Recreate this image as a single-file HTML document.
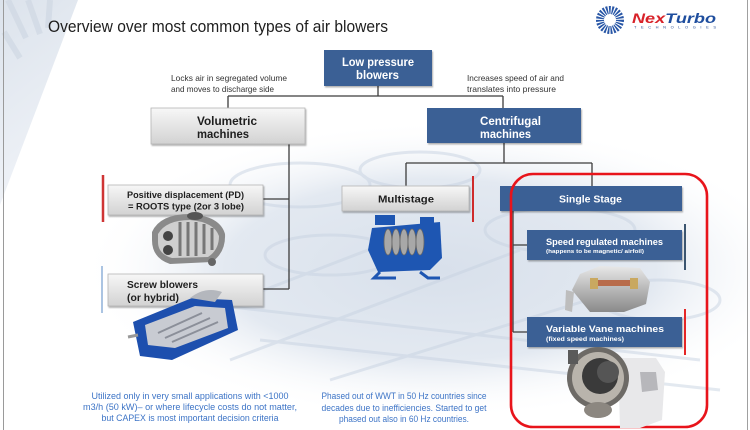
<!DOCTYPE html>
<html><head><meta charset="utf-8"><style>
html,body{margin:0;padding:0;background:#fff;}
svg{display:block;}
text{font-family:"Liberation Sans",Arial,sans-serif;}
</style></head><body>
<svg width="750" height="430" viewBox="0 0 750 430" xmlns="http://www.w3.org/2000/svg">
<defs>
  <linearGradient id="gray" x1="0" y1="0" x2="0" y2="1">
    <stop offset="0" stop-color="#f7f7f7"/><stop offset="1" stop-color="#d2d2d2"/>
  </linearGradient>
  <radialGradient id="bg" cx="0.5" cy="0.5" r="0.5">
    <stop offset="0" stop-color="#d8e0eb"/><stop offset="0.6" stop-color="#e3e9f1"/><stop offset="1" stop-color="#ffffff" stop-opacity="0"/>
  </radialGradient>
  <linearGradient id="wedge" x1="0" y1="0" x2="0.3" y2="1">
    <stop offset="0" stop-color="#dce3ec"/><stop offset="1" stop-color="#f0f3f8"/>
  </linearGradient>
  <linearGradient id="cyl" x1="0" y1="0" x2="0" y2="1">
    <stop offset="0" stop-color="#e8e8e8"/><stop offset="0.5" stop-color="#b8b8b8"/><stop offset="1" stop-color="#8a8a8a"/>
  </linearGradient>
  <filter id="sh" x="-5%" y="-5%" width="110%" height="130%"><feDropShadow dx="1" dy="1.5" stdDeviation="0.8" flood-color="#000" flood-opacity="0.3"/></filter>
</defs>

<!-- background -->
<rect width="750" height="430" fill="#fff"/>
<polygon points="0,0 78,0 0,205" fill="url(#wedge)"/>
<g stroke="#cdd6e2" stroke-width="6" fill="none" opacity="0.6">
  <path d="M8,0 L26,38"/><path d="M28,0 L40,34"/><path d="M50,0 L48,28"/><path d="M4,32 L20,58"/>
</g>
<ellipse cx="440" cy="270" rx="360" ry="150" fill="url(#bg)"/>
<g fill="none" stroke="#c8d3e2" stroke-width="3" opacity="0.5">
  <ellipse cx="300" cy="185" rx="70" ry="22"/>
  <ellipse cx="420" cy="170" rx="60" ry="18"/>
  <ellipse cx="560" cy="230" rx="75" ry="22"/>
  <ellipse cx="660" cy="300" rx="60" ry="20"/>
  <ellipse cx="330" cy="255" rx="65" ry="20"/>
  <path d="M160,330 L420,230"/><path d="M230,360 L520,250"/><path d="M330,380 L620,290"/>
  <path d="M170,300 L700,360"/><path d="M260,340 L720,390"/>
</g>

<!-- side borders -->
<line x1="3.5" y1="0" x2="3.5" y2="430" stroke="#9a9a9a" stroke-width="1"/>
<line x1="747.5" y1="0" x2="747.5" y2="430" stroke="#a0a0a0" stroke-width="1"/>

<!-- title -->
<text x="48" y="32" font-size="17" fill="#1e1e1e" textLength="340" lengthAdjust="spacingAndGlyphs">Overview over most common types of air blowers</text>

<!-- logo -->
<circle cx="610" cy="20" r="10" fill="none" stroke="#2856a6" stroke-width="8" stroke-dasharray="1.6 1.1"/>
<circle cx="610" cy="20" r="4.5" fill="#fff"/>
<text x="632" y="23" font-size="14" font-weight="bold" font-style="italic" textLength="84" lengthAdjust="spacingAndGlyphs"><tspan fill="#d8232a">Nex</tspan><tspan fill="#1f4e9e">Turbo</tspan></text>
<text x="634" y="28.5" font-size="4" fill="#2a4f95" textLength="82" lengthAdjust="spacing">TECHNOLOGIES</text>

<!-- connectors -->
<g stroke="#3c3c3c" stroke-width="1.3" fill="none">
  <path d="M378,86 V96 M228,96 H503 M228,96 V108 M503,96 V108"/>
  <path d="M289,144 V289 M263,199 H289 M263,289 H289"/>
  <path d="M504,143 V163 M406,163 H592 M406,163 V186 M592,163 V186"/>
  <path d="M513,211 V332 M513,245 H527 M513,332 H527"/>
</g>

<!-- small labels -->
<g font-size="8.5" fill="#333">
  <text x="171" y="81" textLength="116" lengthAdjust="spacingAndGlyphs">Locks air in segregated volume</text>
  <text x="171" y="92" textLength="103" lengthAdjust="spacingAndGlyphs">and moves to discharge side</text>
  <text x="467" y="81" textLength="97" lengthAdjust="spacingAndGlyphs">Increases speed of air and</text>
  <text x="467" y="92" textLength="89" lengthAdjust="spacingAndGlyphs">translates into pressure</text>
</g>

<!-- boxes -->
<g filter="url(#sh)">
  <rect x="324" y="50" width="108" height="36" fill="#3b6095"/>
  <rect x="151" y="108" width="154" height="36" fill="url(#gray)" stroke="#b5b5b5" stroke-width="0.8"/>
  <rect x="427" y="108" width="154" height="35" fill="#3b6095"/>
  <rect x="108" y="185" width="155" height="30" fill="url(#gray)" stroke="#b5b5b5" stroke-width="0.8"/>
  <rect x="108" y="274" width="155" height="32" fill="url(#gray)" stroke="#b5b5b5" stroke-width="0.8"/>
  <rect x="342" y="186" width="127" height="25" fill="url(#gray)" stroke="#b5b5b5" stroke-width="0.8"/>
  <rect x="500" y="186" width="182" height="25" fill="#3b6095"/>
  <rect x="527" y="230" width="155" height="30" fill="#3b6095"/>
  <rect x="527" y="317" width="155" height="30" fill="#3b6095"/>
</g>

<g font-weight="bold">
  <text x="342" y="66" font-size="12" fill="#fff" textLength="72" lengthAdjust="spacingAndGlyphs">Low pressure</text>
  <text x="356" y="79" font-size="12" fill="#fff" textLength="43" lengthAdjust="spacingAndGlyphs">blowers</text>
  <text x="197" y="125" font-size="12" fill="#1e1e1e" textLength="60" lengthAdjust="spacingAndGlyphs">Volumetric</text>
  <text x="197" y="138" font-size="12" fill="#1e1e1e" textLength="52" lengthAdjust="spacingAndGlyphs">machines</text>
  <text x="480" y="125" font-size="12" fill="#fff" textLength="61" lengthAdjust="spacingAndGlyphs">Centrifugal</text>
  <text x="480" y="138" font-size="12" fill="#fff" textLength="51" lengthAdjust="spacingAndGlyphs">machines</text>
  <text x="127" y="198" font-size="9.5" fill="#1e1e1e" textLength="117" lengthAdjust="spacingAndGlyphs">Positive displacement (PD)</text>
  <text x="128" y="209.5" font-size="9.5" fill="#1e1e1e" textLength="116" lengthAdjust="spacingAndGlyphs">= ROOTS type (2or 3 lobe)</text>
  <text x="127" y="288" font-size="10.5" fill="#1e1e1e" textLength="71" lengthAdjust="spacingAndGlyphs">Screw blowers</text>
  <text x="127" y="301" font-size="10.5" fill="#1e1e1e" textLength="52" lengthAdjust="spacingAndGlyphs">(or hybrid)</text>
  <text x="378" y="202.5" font-size="10.5" fill="#1e1e1e" textLength="56" lengthAdjust="spacingAndGlyphs">Multistage</text>
  <text x="559" y="202.5" font-size="10.5" fill="#fff" textLength="63" lengthAdjust="spacingAndGlyphs">Single Stage</text>
  <text x="546" y="245" font-size="9.5" fill="#fff" textLength="117" lengthAdjust="spacingAndGlyphs">Speed regulated machines</text>
  <text x="546" y="253" font-size="5.5" fill="#fff" textLength="98" lengthAdjust="spacingAndGlyphs">(happens to be magnetic/ airfoil)</text>
  <text x="546" y="332" font-size="9.5" fill="#fff" textLength="118" lengthAdjust="spacingAndGlyphs">Variable Vane machines</text>
  <text x="546" y="341" font-size="6.5" fill="#fff" textLength="78" lengthAdjust="spacingAndGlyphs">(fixed speed machines)</text>
</g>

<!-- side bars -->
<line x1="103" y1="175" x2="103" y2="222" stroke="#cf3535" stroke-width="2.5"/>
<line x1="102" y1="266" x2="102" y2="313" stroke="#8fb0d8" stroke-width="1.5"/>
<line x1="473" y1="176" x2="473" y2="222" stroke="#cf2b2b" stroke-width="2"/>
<line x1="685" y1="224" x2="685" y2="270" stroke="#3b5570" stroke-width="2"/>
<line x1="685" y1="309" x2="685" y2="355" stroke="#e52626" stroke-width="2"/>

<!-- red highlight -->
<rect x="511" y="174" width="196" height="253" rx="22" ry="22" fill="none" stroke="#e8141b" stroke-width="2.6"/>

<!-- Roots blower -->
<g>
  <path d="M152,232 Q160,214 190,214 Q220,216 225,234 Q226,252 212,262 L170,264 Q152,258 152,240 Z" fill="#8a8a8a"/>
  <path d="M158,234 Q166,220 190,220 Q214,222 219,236 Q219,250 208,257 L172,258 Q158,254 158,242 Z" fill="#cfcfcf"/>
  <g stroke="#777" stroke-width="3"><path d="M180,222 V256 M188,222 V256 M196,222 V256 M204,224 V254 M212,228 V250"/></g>
  <circle cx="168" cy="236" r="5" fill="#444"/><circle cx="168" cy="250" r="5" fill="#444"/>
  <ellipse cx="195" cy="216" rx="8" ry="4" fill="#555"/>
  <circle cx="212" cy="262" r="4" fill="#666"/>
</g>

<!-- Screw blower -->
<g>
  <path d="M133,322 L192,298 L232,300 L238,330 L172,360 L140,356 Z" fill="#1d4fae"/>
  <path d="M145,325 L195,306 L225,308 L228,328 L175,348 L148,345 Z" fill="#c8cbd2"/>
  <g stroke="#8b8f99" stroke-width="2"><path d="M165,338 L210,318 M172,342 L218,322 M158,333 L202,313"/></g>
  <path d="M190,298 Q205,286 222,292 L215,302 Z" fill="#b4b7bd"/>
  <line x1="128" y1="337" x2="138" y2="335" stroke="#999" stroke-width="3"/>
</g>

<!-- Multistage -->
<g>
  <path d="M372,228 L440,222 L442,258 L430,270 L378,272 L368,250 Z" fill="#1e56b2"/>
  <rect x="375" y="215" width="20" height="10" fill="#1e56b2"/>
  <rect x="420" y="217" width="14" height="14" fill="#1e56b2"/>
  <g fill="#a8a8a8" stroke="#666" stroke-width="0.8">
    <ellipse cx="388" cy="242" rx="4" ry="13"/><ellipse cx="396" cy="242" rx="4" ry="13"/><ellipse cx="404" cy="242" rx="4" ry="13"/><ellipse cx="412" cy="242" rx="4" ry="13"/><ellipse cx="420" cy="242" rx="4" ry="13"/>
  </g>
  <path d="M380,272 L374,278 H396 M420,272 L428,278 H440" stroke="#1e56b2" stroke-width="3" fill="none"/>
</g>

<!-- Speed regulated -->
<g>
  <path d="M572,290 L580,274 L600,266 L640,268 L650,282 L646,304 L624,312 L590,312 Z" fill="url(#cyl)"/>
  <path d="M566,290 L574,292 L572,312 L565,310 Z" fill="#bdbdbd"/>
  <rect x="592" y="280" width="44" height="6" fill="#b86b4a"/>
  <rect x="590" y="278" width="8" height="11" fill="#c9a860"/><rect x="630" y="278" width="8" height="11" fill="#c9a860"/>
</g>

<!-- Variable vane -->
<g>
  <path d="M618,358 L656,358 L665,372 L662,420 L640,428 L620,428 Z" fill="#e8e8ea"/>
  <path d="M640,372 L656,372 L658,390 L642,392 Z" fill="#b7b7bb"/>
  <circle cx="598" cy="378" r="31" fill="#6d6a66"/>
  <circle cx="598" cy="378" r="26" fill="#b9b4ac"/>
  <circle cx="600" cy="376" r="18" fill="#3a3a3a"/>
  <circle cx="608" cy="372" r="11" fill="#555"/>
  <ellipse cx="598" cy="410" rx="14" ry="8" fill="#8c8780"/>
  <rect x="568" y="350" width="10" height="14" fill="#5a5a5a"/>
</g>

<!-- bottom texts -->
<g font-size="9" fill="#3d74c6" text-anchor="middle">
  <text x="190" y="399" textLength="197" lengthAdjust="spacingAndGlyphs">Utilized only in very small applications with &lt;1000</text>
  <text x="190" y="410" textLength="214" lengthAdjust="spacingAndGlyphs">m3/h (50 kW)– or where lifecycle costs do not matter,</text>
  <text x="190" y="421" textLength="177" lengthAdjust="spacingAndGlyphs">but CAPEX is most important decision criteria</text>
  <text x="404" y="399" textLength="165" lengthAdjust="spacingAndGlyphs">Phased out of WWT in 50 Hz countries since</text>
  <text x="404" y="411" textLength="165" lengthAdjust="spacingAndGlyphs">decades due to inefficiencies. Started to get</text>
  <text x="404" y="422" textLength="130" lengthAdjust="spacingAndGlyphs">phased out also in 60 Hz countries.</text>
</g>
</svg>
</body></html>
